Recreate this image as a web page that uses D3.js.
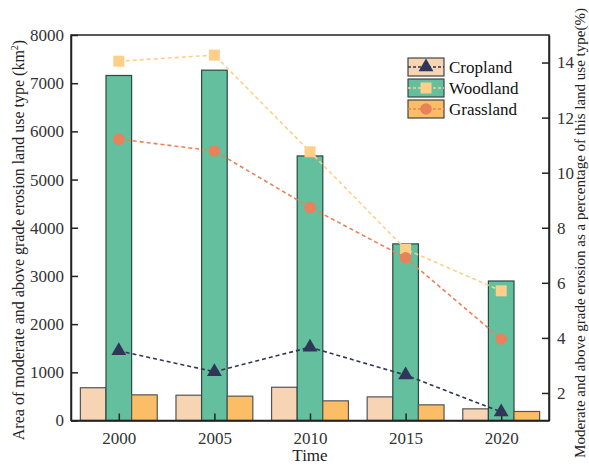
<!DOCTYPE html>
<html>
<head>
<meta charset="utf-8">
<script src="https://cdn.jsdelivr.net/npm/d3@7"></script>
<style>
  html, body { margin: 0; padding: 0; background: #fff; }
  svg { display: block; font-family: "Liberation Serif", "Times New Roman", serif; }
</style>
</head>
<body>
<svg id="chart" width="589" height="466"></svg>
<script>
// Years on the x axis
const years = ["2000", "2005", "2010", "2015", "2020"];
// Area (km²) of moderate-and-above erosion by land use type
const croplandArea = [680, 525, 690, 490, 242];
const woodlandArea = [7160, 7270, 5490, 3665, 2895];
const grasslandArea = [532, 505, 408, 325, 187];
// Share (%) of each land use type under moderate-and-above erosion
const croplandPct = [3.53, 2.77, 3.66, 2.65, 1.31];
const woodlandPct = [14.05, 14.27, 10.76, 7.22, 5.71];
const grasslandPct = [11.22, 10.79, 8.74, 6.91, 3.96];
// Axis ticks
const leftTicks = [0, 1000, 2000, 3000, 4000, 5000, 6000, 7000, 8000];
const rightTicks = [2, 4, 6, 8, 10, 12, 14];
const seriesNames = ["Cropland", "Woodland", "Grassland"];

const svg = d3.select("#chart");
const m = { left: 71, right: 549, top: 35, bottom: 420.5 };

const x = d3.scalePoint().domain(years).range([m.left, m.right]).padding(0.5);
const yL = d3.scaleLinear().domain([0, 8000]).range([m.bottom, m.top]);
const yR = d3.scaleLinear().domain([1, 15]).range([m.bottom, m.top]);

const barW = x.step() * 0.268;
const series = [
  { name: "Cropland", area: croplandArea, pct: croplandPct, fill: "#F6D4B4", stroke: "#555", line: "#2F3658", marker: "triangle", off: -1 },
  { name: "Woodland", area: woodlandArea, pct: woodlandPct, fill: "#63BF9E", stroke: "#2d4a3f", line: "#FFCF8A", marker: "square", off: 0 },
  { name: "Grassland", area: grasslandArea, pct: grasslandPct, fill: "#FBBE66", stroke: "#555", line: "#E8825A", marker: "circle", off: 1 }
];

// Bars
series.forEach(s => {
  svg.append("g").selectAll("rect").data(years).join("rect")
    .attr("x", d => x(d) + s.off * barW - barW / 2)
    .attr("y", (d, i) => yL(s.area[i]))
    .attr("width", barW)
    .attr("height", (d, i) => yL(0) - yL(s.area[i]))
    .attr("fill", s.fill)
    .attr("stroke", s.stroke)
    .attr("stroke-width", 1.2);
});

// Frame
svg.append("rect")
  .attr("x", m.left).attr("y", m.top)
  .attr("width", m.right - m.left).attr("height", m.bottom - m.top)
  .attr("fill", "none").attr("stroke", "#222").attr("stroke-width", 1.5);

// Axes with inward ticks
const axL = svg.append("g").attr("transform", `translate(${m.left},0)`)
  .call(d3.axisLeft(yL).tickValues(leftTicks).tickFormat(d3.format("d"))
    .tickSizeInner(-7).tickSizeOuter(0).tickPadding(7));
const axR = svg.append("g").attr("transform", `translate(${m.right},0)`)
  .call(d3.axisRight(yR).tickValues(rightTicks).tickFormat(d3.format("d"))
    .tickSizeInner(-7).tickSizeOuter(0).tickPadding(8));
const axB = svg.append("g").attr("transform", `translate(0,${m.bottom})`)
  .call(d3.axisBottom(x).tickSizeInner(-7).tickSizeOuter(0).tickPadding(11));
[axL, axR, axB].forEach(a => {
  a.select(".domain").attr("stroke", "#222").attr("stroke-width", 1.5);
  a.selectAll(".tick line").attr("stroke", "#222").attr("stroke-width", 1.5);
  a.selectAll(".tick text").attr("fill", "#333").style("font-size", "17px")
    .style("font-family", '"Liberation Serif", "Times New Roman", serif');
});

// Marker drawing helper
function marker(g, type, color, cx, cy) {
  if (type === "triangle") {
    g.append("path").attr("d", d3.symbol(d3.symbolTriangle, 95)())
      .attr("transform", `translate(${cx},${cy})`).attr("fill", color);
  } else if (type === "square") {
    g.append("rect").attr("x", cx - 5.5).attr("y", cy - 5.5).attr("width", 11).attr("height", 11).attr("fill", color);
  } else {
    g.append("circle").attr("cx", cx).attr("cy", cy).attr("r", 5.8).attr("fill", color);
  }
}

// Percentage lines
const drawOrder = [series[1], series[2], series[0]];
drawOrder.forEach(s => {
  const g = svg.append("g");
  const line = d3.line().x((d, i) => x(years[i])).y(d => yR(d));
  g.append("path").datum(s.pct).attr("d", line)
    .attr("fill", "none").attr("stroke", s.line).attr("stroke-width", 1.6)
    .attr("stroke-dasharray", "4,3");
  s.pct.forEach((v, i) => marker(g, s.marker, s.line, x(years[i]), yR(v)));
});

// Legend
const lg = svg.append("g").attr("transform", "translate(408,58)");
seriesNames.forEach((name, i) => {
  const s = series.find(d => d.name === name);
  const row = lg.append("g").attr("transform", `translate(0,${i * 21})`);
  row.append("rect").attr("x", 0).attr("y", 0).attr("width", 36).attr("height", 18)
    .attr("fill", s.fill).attr("stroke", "#444").attr("stroke-width", 1.2);
  row.append("line").attr("x1", 0).attr("x2", 36).attr("y1", 9).attr("y2", 9)
    .attr("stroke", s.line).attr("stroke-width", 1.4).attr("stroke-dasharray", "3,2");
  marker(row, s.marker, s.line, 18, 9);
  row.append("text").attr("x", 41).attr("y", 9).attr("dy", "0.35em")
    .attr("fill", "#111").style("font-size", "17px").text(name);
});

// Axis titles
svg.append("text").attr("transform", `translate(24,240) rotate(-90)`)
  .attr("text-anchor", "middle").attr("fill", "#222").style("font-size", "16px")
  .html('Area of moderate and above grade erosion land use type (km<tspan dy="-6" font-size="10">2</tspan><tspan dy="6">)</tspan>');
svg.append("text").attr("transform", `translate(585,233) rotate(-90)`)
  .attr("text-anchor", "middle").attr("fill", "#222").style("font-size", "15px")
  .text("Moderate and above grade erosion as a percentage of this land use type(%)");
svg.append("text").attr("x", (m.left + m.right) / 2).attr("y", 461)
  .attr("text-anchor", "middle").attr("fill", "#222").style("font-size", "17px").text("Time");
</script>
</body>
</html>
